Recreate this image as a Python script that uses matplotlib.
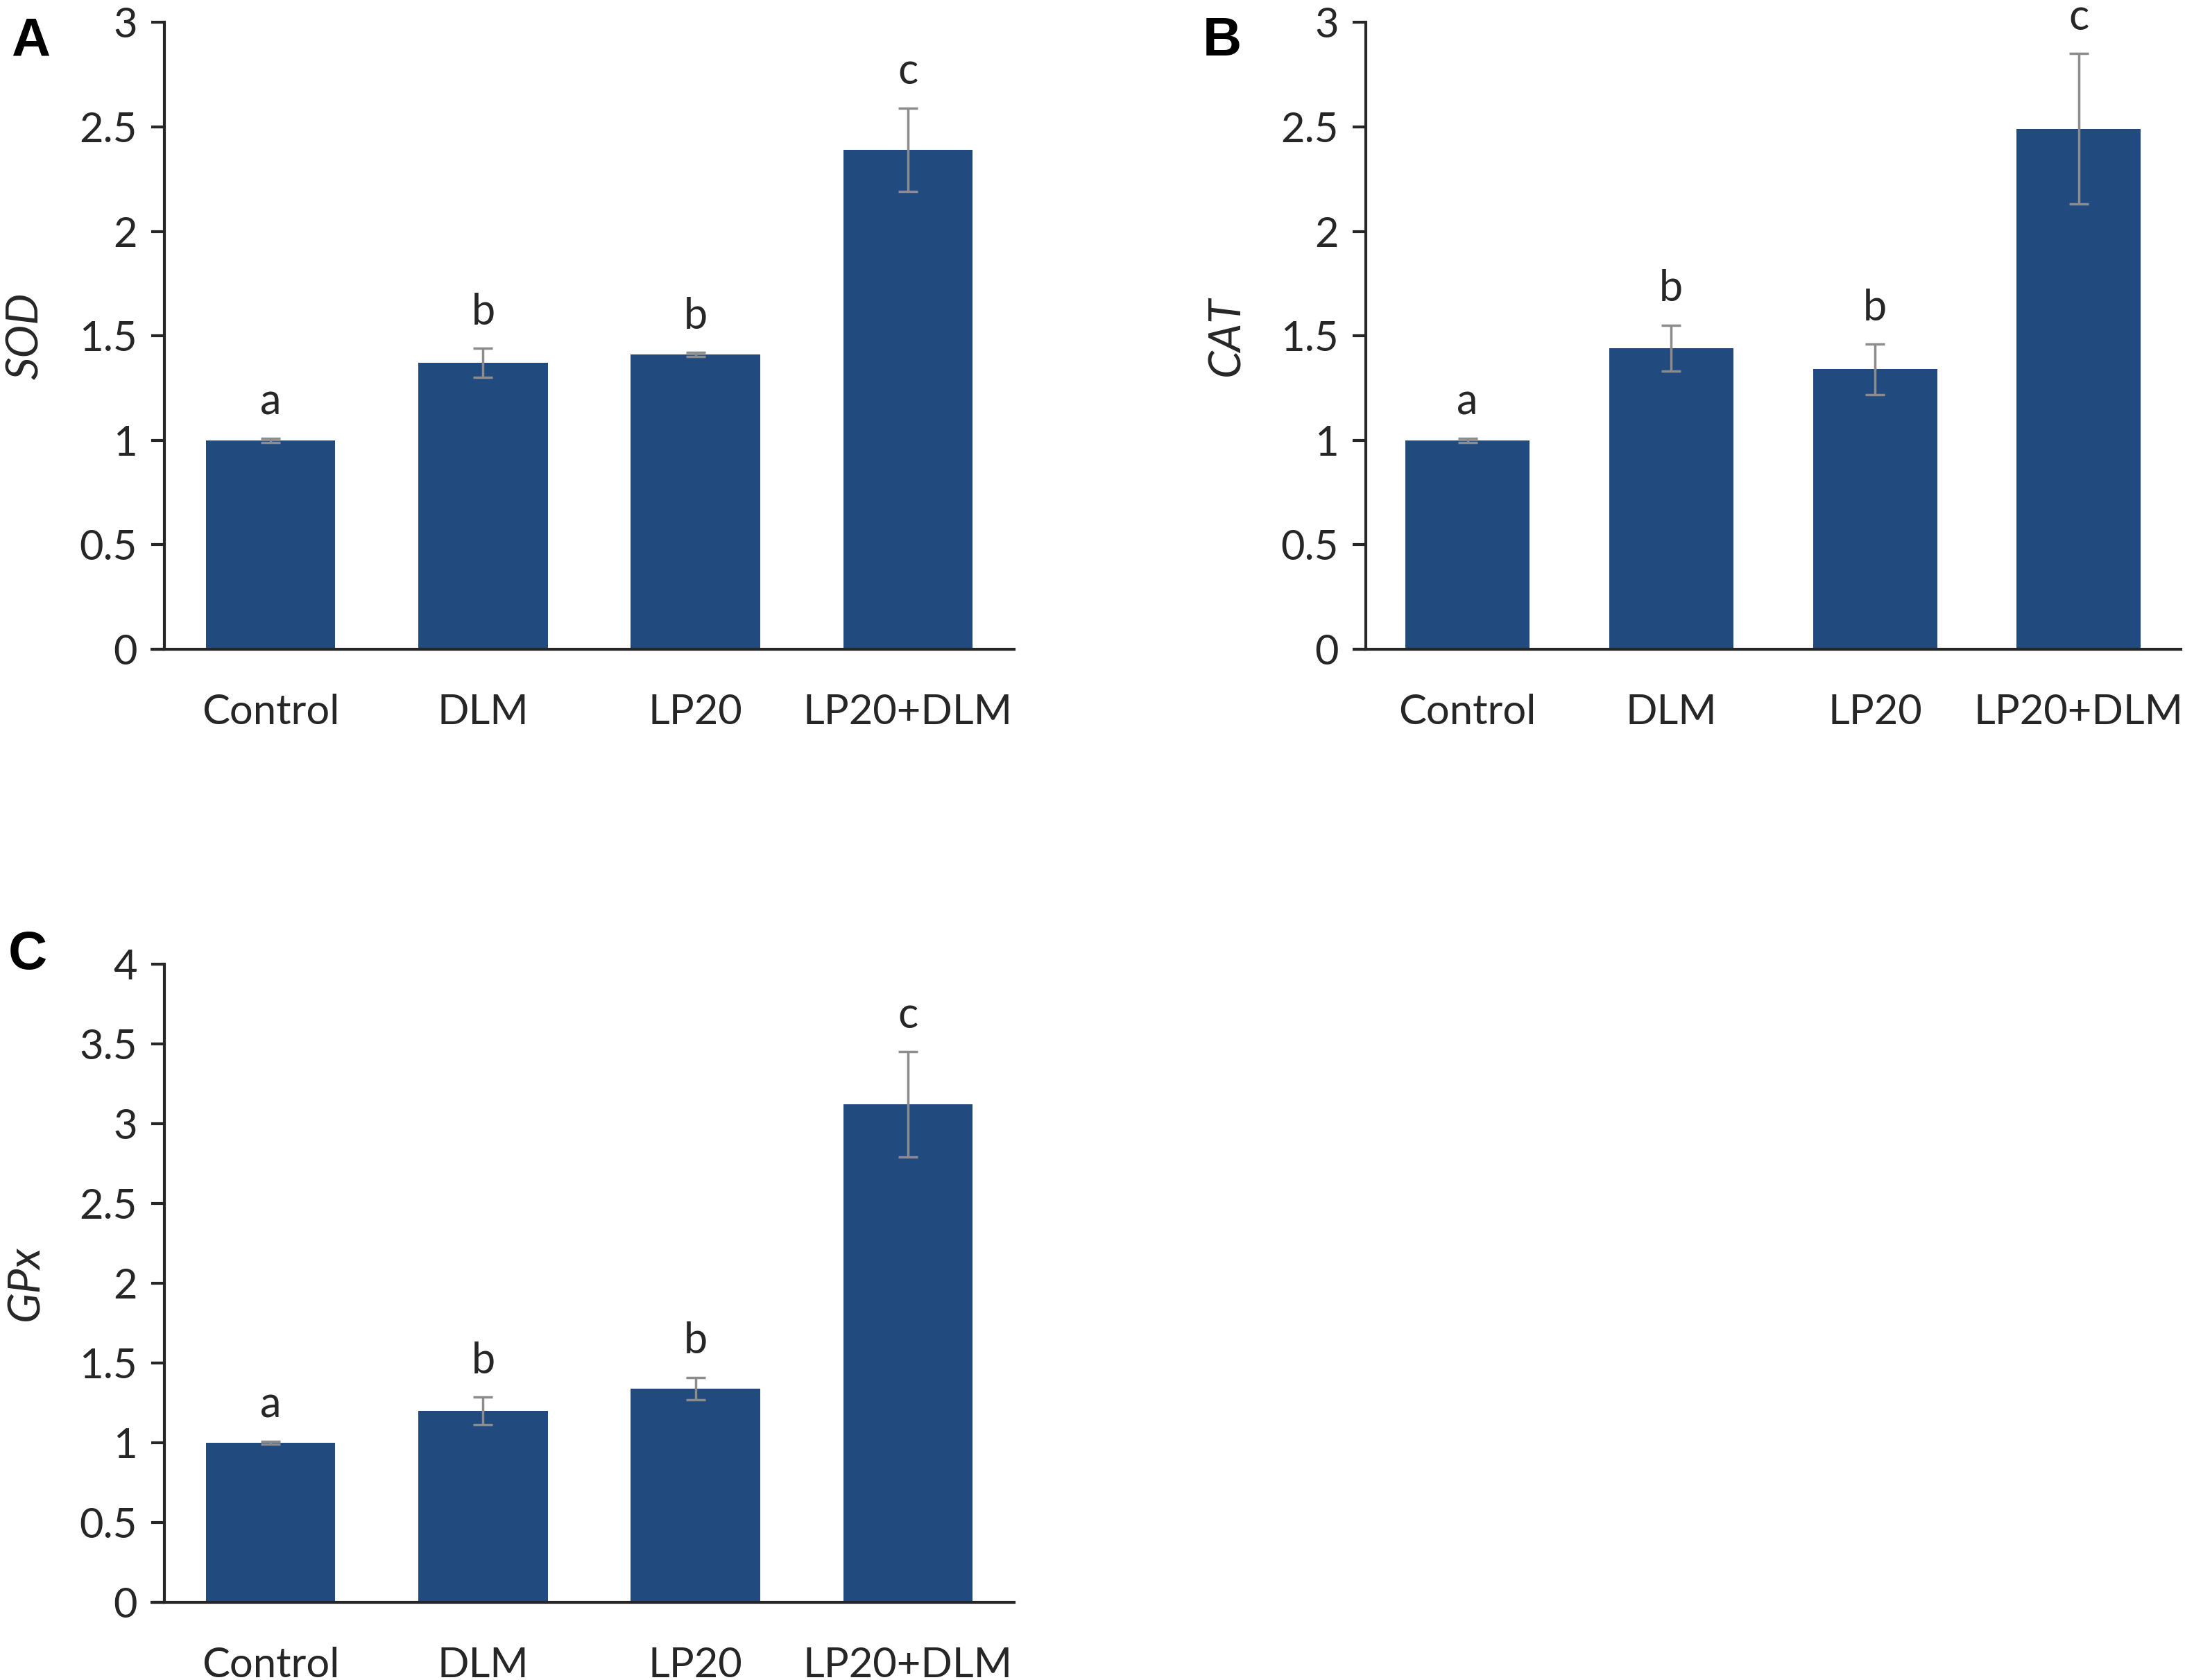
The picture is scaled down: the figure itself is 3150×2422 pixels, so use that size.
import matplotlib
matplotlib.use("Agg")
import matplotlib.pyplot as plt
import numpy as np

groups = ["Control", "DLM", "LP20", "LP20+DLM"]
letters = ["a", "b", "b", "c"]

sod = [1.0, 1.37, 1.41, 2.39]
sod_err = [0.01, 0.07, 0.01, 0.20]

cat = [1.0, 1.44, 1.34, 2.49]
cat_err = [0.01, 0.11, 0.12, 0.36]

gpx = [1.0, 1.20, 1.34, 3.12]
gpx_err = [0.01, 0.085, 0.07, 0.33]

bar_color = "#214a7e"
err_color = "#8c8c8c"
axis_color = "#262626"

plt.rcParams["font.family"] = ["Lato", "DejaVu Sans"]

fig = plt.figure(figsize=(31.5, 24.22), dpi=100)


def panel(rect, vals, errs, ylab, ymax, tag, tag_xy, lab_x):
    ax = fig.add_axes(rect)
    x = np.arange(len(groups))
    ax.bar(x, vals, width=0.61, color=bar_color, zorder=2)
    ax.errorbar(x, vals, yerr=errs, fmt="none", ecolor=err_color,
                elinewidth=2.5, capsize=10, capthick=2.5, zorder=3)
    for xi, v, e, l in zip(x, vals, errs, letters):
        ax.annotate(l, (xi, v + e), xytext=(0, 17), textcoords="offset points",
                    ha="center", va="bottom", fontsize=44, color="#262626",
                    annotation_clip=False)
    ax.set_xlim(-0.5, 3.5)
    ax.set_ylim(0, ymax)
    ticks = np.arange(0, ymax + 0.01, 0.5)
    ax.set_yticks(ticks)
    ax.set_yticklabels([f"{t:g}" for t in ticks])
    ax.set_xticks(x)
    ax.set_xticklabels(groups)
    for s in ["top", "right"]:
        ax.spines[s].set_visible(False)
    for s in ["left", "bottom"]:
        ax.spines[s].set_linewidth(3)
        ax.spines[s].set_color(axis_color)
    # excel style: x axis runs a little past the y axis
    ax.plot([-0.016, 0], [0, 0], transform=ax.transAxes, color=axis_color,
            lw=3, clip_on=False, solid_capstyle="butt")
    ax.tick_params(axis="y", length=14, width=3, color=axis_color,
                   labelsize=43, pad=14, labelcolor="#262626")
    ax.tick_params(axis="x", length=0, labelsize=43, pad=46, labelcolor="#262626")
    ax.set_ylabel(ylab, fontsize=46, style="italic", color="#262626")
    ax.yaxis.set_label_coords(lab_x, 0.5)
    fig.text(tag_xy[0], tag_xy[1], tag, fontsize=56, fontweight="bold",
             family="Liberation Sans", ha="center", va="center")
    return ax


panel([0.0752, 0.6135, 0.389, 0.3732], sod, sod_err, "SOD", 3, "A",
      (44 / 3150, 1 - 60 / 2422), -0.139)
panel([0.625, 0.6135, 0.373, 0.3732], cat, cat_err, "CAT", 3, "B",
      (1762 / 3150, 1 - 60 / 2422), -0.146)
panel([0.0752, 0.0462, 0.389, 0.380], gpx, gpx_err, "GPx", 4, "C",
      (40 / 3150, 1 - 1376 / 2422), -0.139)

fig.savefig("out.png", dpi=100, facecolor="white")
